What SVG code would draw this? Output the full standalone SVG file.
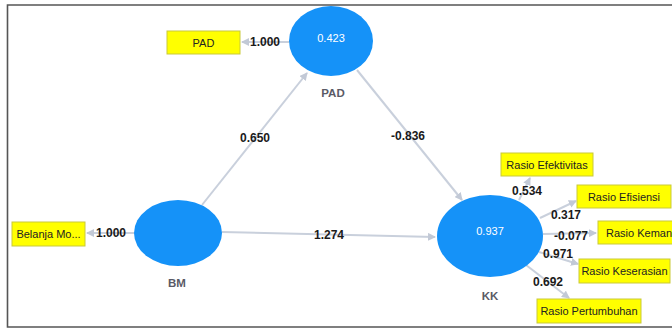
<svg xmlns="http://www.w3.org/2000/svg" width="672" height="331" viewBox="0 0 672 331">
<defs>
<style>
.frame{fill:none;stroke:#555;stroke-width:1.6}
.lv{fill:#1592f8}
.ind{fill:#ffff00;stroke:#c9c93a;stroke-width:1}
.con{stroke:#c9d0dc;stroke-width:2;fill:none;marker-end:url(#ah)}
.val{font-family:"Liberation Sans",Arial,sans-serif;font-size:11px;fill:#ffffff;text-anchor:middle}
.name{font-family:"Liberation Sans",Arial,sans-serif;font-size:11.5px;font-weight:bold;fill:#5a5a66;text-anchor:middle}
.it{font-family:"Liberation Sans",Arial,sans-serif;font-size:11px;fill:#222;text-anchor:middle}
.w{font-family:"Liberation Sans",Arial,sans-serif;font-size:12px;font-weight:bold;fill:#1a1a1a;text-anchor:middle}
</style>
<marker id="ah" viewBox="0 0 8 8" refX="7" refY="4" markerWidth="4" markerHeight="4" orient="auto" markerUnits="strokeWidth">
<path d="M0,0 L8,4 L0,8 Z" fill="#c2c9d6"/>
</marker>
</defs>
<rect width="672" height="331" fill="#ffffff"/>
<path class="frame" d="M680,5 H7.5 V327 H680"/>
<g id="connectors">
<line class="con" x1="289" y1="42" x2="242" y2="42"/>
<line class="con" x1="134" y1="233" x2="87" y2="233"/>
<line class="con" x1="202" y1="205" x2="307" y2="73"/>
<line class="con" x1="357" y1="70" x2="462" y2="200"/>
<line class="con" x1="222" y1="232" x2="435" y2="237"/>
<line class="con" x1="519" y1="200" x2="530" y2="178"/>
<line class="con" x1="540" y1="218" x2="576" y2="201"/>
<line class="con" x1="543" y1="234" x2="596" y2="233"/>
<line class="con" x1="539" y1="252" x2="578" y2="264"/>
<line class="con" x1="526" y1="265" x2="569" y2="298"/>
<text class="w" x="265" y="46">1.000</text>
<text class="w" x="111" y="237">1.000</text>
<text class="w" x="255" y="142">0.650</text>
<text class="w" x="408" y="140">-0.836</text>
<text class="w" x="329" y="239">1.274</text>
<text class="w" x="527" y="195">0.534</text>
<text class="w" x="566" y="219">0.317</text>
<text class="w" x="571" y="240">-0.077</text>
<text class="w" x="558" y="258">0.971</text>
<text class="w" x="548" y="286">0.692</text>
</g>
<g id="PAD">
<ellipse class="lv" cx="331" cy="41" rx="42" ry="35"/>
<text class="val" x="331" y="42">0.423</text>
<text class="name" x="333" y="97">PAD</text>
</g>
<g id="BM">
<ellipse class="lv" cx="178" cy="233" rx="44" ry="33"/>
<text class="name" x="177" y="287">BM</text>
</g>
<g id="KK">
<ellipse class="lv" cx="490" cy="236" rx="53" ry="41"/>
<text class="val" x="490" y="235">0.937</text>
<text class="name" x="490" y="300">KK</text>
</g>
<g id="ind-PAD">
<rect class="ind" x="167" y="31" width="73" height="23"/>
<text class="it" x="203.5" y="46.5">PAD</text>
</g>
<g id="ind-BM">
<rect class="ind" x="12" y="222" width="73" height="24"/>
<text class="it" x="48.5" y="238">Belanja Mo...</text>
</g>
<g id="ind-efektivitas">
<rect class="ind" x="501" y="153" width="92" height="23"/>
<text class="it" x="547" y="168.5">Rasio Efektivitas</text>
</g>
<g id="ind-efisiensi">
<rect class="ind" x="577" y="185" width="94" height="23"/>
<text class="it" x="624" y="200.5">Rasio Efisiensi</text>
</g>
<g id="ind-kemandirian">
<rect class="ind" x="598" y="221" width="110" height="23"/>
<text class="it" x="606" y="236.5" style="text-anchor:start">Rasio Keman</text>
</g>
<g id="ind-keserasian">
<rect class="ind" x="579" y="259" width="91" height="24"/>
<text class="it" x="624.5" y="275">Rasio Keserasian</text>
</g>
<g id="ind-pertumbuhan">
<rect class="ind" x="537" y="299" width="104" height="24"/>
<text class="it" x="589" y="315">Rasio Pertumbuhan</text>
</g>
</svg>
